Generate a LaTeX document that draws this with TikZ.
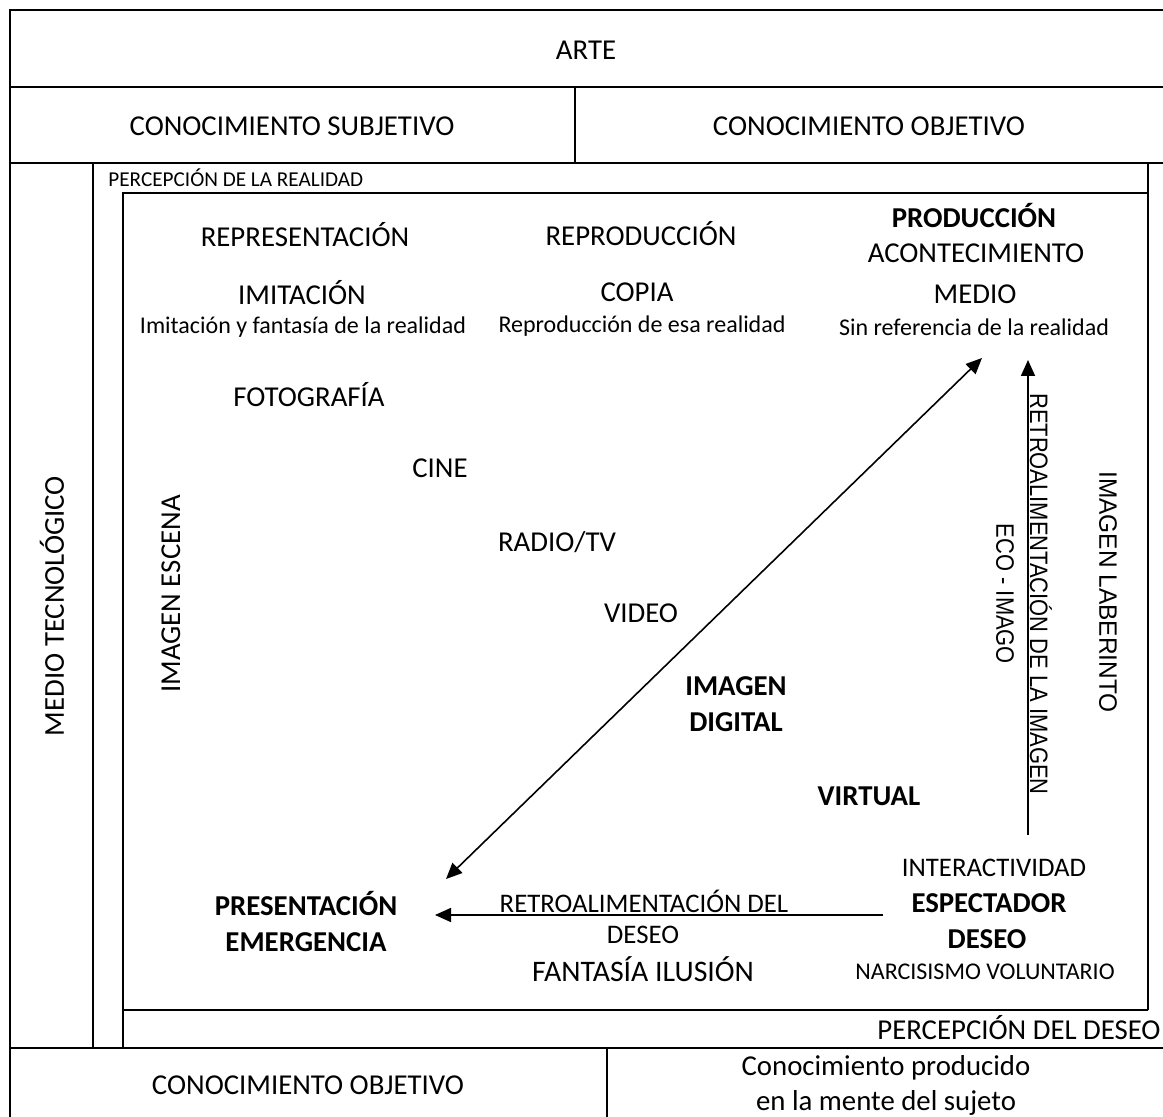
\documentclass[tikz,border=0pt]{standalone}
\usepackage{fontspec}
\setmainfont{Carlito}
\newfontfamily\narrowsans[FakeStretch=0.87]{Liberation Sans}
\newfontfamily\widesans[FakeStretch=0.97]{Liberation Sans}
\usetikzlibrary{arrows.meta}
\begin{document}
\begin{tikzpicture}[x=0.5pt,y=-0.5pt,
  frame/.style={line width=1pt},
  conn/.style={line width=0.8pt,-{Triangle[length=8pt,width=7pt]}},
  twoway/.style={line width=0.8pt,{Triangle[length=8pt,width=7pt]}-{Triangle[length=8pt,width=7pt]}},
  lbl/.style={inner sep=0pt,font=\fontsize{14.4pt}{17pt}\selectfont},
  lblb/.style={lbl,font=\fontsize{14.4pt}{17pt}\selectfont\bfseries},
  mid/.style={inner sep=0pt,font=\fontsize{13.4pt}{16pt}\selectfont},
  sub/.style={inner sep=0pt,font=\fontsize{12pt}{14pt}\selectfont},
  small/.style={inner sep=0pt,font=\fontsize{10.6pt}{12pt}\selectfont},
  side/.style={inner sep=0pt,rotate=-90,font=\narrowsans\fontsize{12.6pt}{15pt}\selectfont}]
\useasboundingbox (0,0) rectangle (1163,1117);
\fill[white] (0,0) rectangle (1163,1117);

% table frame
\draw[frame] (1163,10) -- (10,10) -- (10,1117);
\draw[frame] (10,87) -- (1163,87);
\draw[frame] (10,163) -- (1163,163);
\draw[frame] (575,87) -- (575,163);
\draw[frame] (93,163) -- (93,1048);
\draw[frame] (1148,163) -- (1148,1010);
\draw[frame] (123,1048) -- (123,193) -- (1148,193);
\draw[frame] (123,1010) -- (1148,1010);
\draw[frame] (10,1048) -- (1163,1048);
\draw[frame] (607,1048) -- (607,1117);

% header cells
\node[lbl] (arte) at (586,50) {ARTE};
\node[lbl] (csub) at (292,126) {CONOCIMIENTO SUBJETIVO};
\node[lbl] (cobj) at (869,126) {CONOCIMIENTO OBJETIVO};
\node[small,anchor=west] (preal) at (108,178) {PERCEPCIÓN DE LA REALIDAD};

% side labels
\node[lbl,rotate=90] (medio) at (52,606) {MEDIO TECNOLÓGICO};
\node[lbl,rotate=90] (escena) at (171,594) {IMAGEN ESCENA};
\node[side,font=\widesans\fontsize{12.6pt}{15pt}\selectfont] (laber) at (1108,592) {IMAGEN LABERINTO};
\node[side] (retroimg) at (1041,594) {RETROALIMENTACIÓN DE LA IMAGEN};
\node[side] (eco) at (1005,594) {ECO - IMAGO};

% top row of the inner box
\node[lbl] (repr) at (305,235) {REPRESENTACIÓN};
\node[lbl] (repro) at (641,234) {REPRODUCCIÓN};
\node[lblb] (prod) at (974,216) {PRODUCCIÓN};
\node[lbl] (acont) at (976,253) {ACONTECIMIENTO};
\node[lbl] (imit) at (302,293) {IMITACIÓN};
\node[lbl] (copia) at (637,292) {COPIA};
\node[lbl] (medio2) at (975,294) {MEDIO};
\node[sub] (imitd) at (303,327) {Imitación y fantasía de la realidad};
\node[sub] (copiad) at (642,326) {Reproducción de esa realidad};
\node[sub] (mediod) at (974,327) {Sin referencia de la realidad};

% media sequence
\node[lbl] (foto) at (309,395) {FOTOGRAFÍA};
\node[lbl] (cine) at (440,468) {CINE};
\node[lbl] (radio) at (557,542) {RADIO/TV};
\node[lbl] (video) at (641,613) {VIDEO};
\node[lblb,align=center] (digital) at (736,704) {IMAGEN\\[1pt]DIGITAL};
\node[lblb] (virtual) at (869,796) {VIRTUAL};

% bottom corners of the inner box
\node[mid] (inter) at (994,868) {INTERACTIVIDAD};
\node[lblb] (espec) at (989,903) {ESPECTADOR};
\node[lblb] (deseo) at (987,939) {DESEO};
\node[sub] (narc) at (985,972) {NARCISISMO VOLUNTARIO};
\node[lblb,align=center] (present) at (306,922) {PRESENTACIÓN\\[1pt]EMERGENCIA};
\node[mid] (retrod) at (644,901) {RETROALIMENTACIÓN DEL};
\node[mid] (deseo2) at (643,935) {DESEO};
\node[inner sep=0pt,font=\fontsize{14.9pt}{17pt}\selectfont] (fant) at (643,969) {FANTASÍA ILUSIÓN};

% connectors
\coordinate (dlow) at (446,879);
\coordinate (dup) at (982,358);
\coordinate (hstart) at (883,915);
\coordinate (hend) at (435,915);
\coordinate (vstart) at (1028,835);
\coordinate (vend) at (1028,360);
\draw[twoway] (dlow) -- (dup);
\draw[conn] (hstart) -- (hend);
\draw[conn] (vstart) -- (vend);

% footer
\node[lbl,anchor=east] (pdeseo) at (1161,1028) {PERCEPCIÓN DEL DESEO};
\node[lbl] (cobj2) at (308,1085) {CONOCIMIENTO OBJETIVO};
\node[lbl] (cprod) at (886,1068) {Conocimiento producido};
\node[lbl] (mente) at (886,1103) {en la mente del sujeto};
\end{tikzpicture}
\end{document}
